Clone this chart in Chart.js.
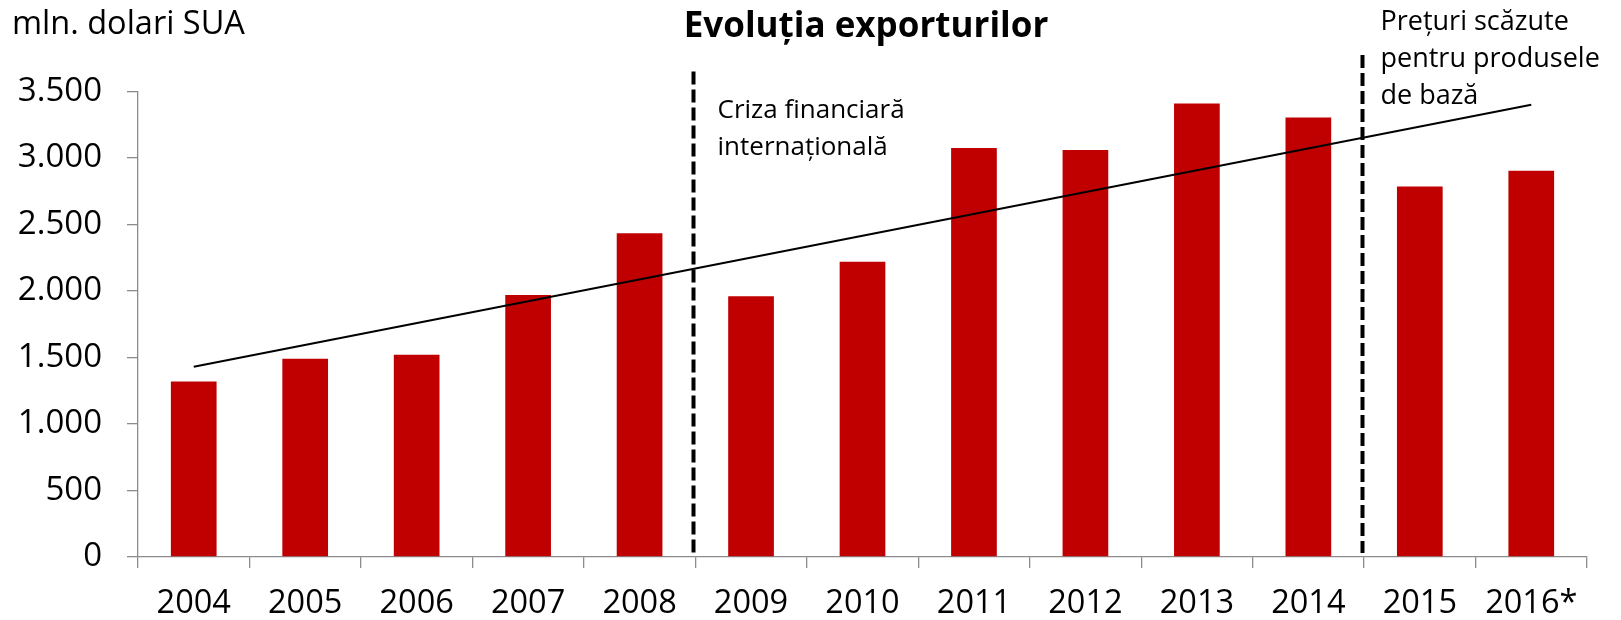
<!DOCTYPE html>
<html>
<head>
<meta charset="utf-8">
<script src="https://cdn.jsdelivr.net/npm/chart.js@4.4.0/dist/chart.umd.min.js"></script>
<style>
html, body { margin: 0; padding: 0; background: #ffffff; }
#wrap { width: 1621px; height: 620px; position: relative; }
</style>
</head>
<body>
<div id="wrap"><canvas id="c" width="1621" height="620"></canvas></div>
<script>
// ---- data ----
const years = ['2004', '2005', '2006', '2007', '2008', '2009', '2010', '2011', '2012', '2013', '2014', '2015', '2016*'];
const exportValues = [1320, 1490, 1520, 1970, 2435, 1960, 2220, 3075, 3060, 3410, 3305, 2785, 2905];
const trendValues = [1430, null, null, null, null, null, null, null, null, null, null, null, 3400];
const yMin = 0;
const yMax = 3500;
const yStep = 500;
const dividerPositions = [4.5, 10.5];      // between 2008/2009 and 2014/2015
const dividerTops = [3650, 3775];          // value where dashed lines start
const annotationLines = [
  ['Criza financiară', 'internațională'],
  ['Prețuri scăzute', 'pentru produsele', 'de bază']
];
const titleText = 'Evoluția exporturilor';
const unitText = 'mln. dolari SUA';

// ---- styles ----
const FONT = '"Open Sans", "Liberation Sans", sans-serif';
const AXIS_GRAY = '#8c8c8c';
const BAR_RED = '#C00000';

function fmt(v) {
  return String(v).replace(/\B(?=(\d{3})+(?!\d))/g, '.');
}

const overlayPlugin = {
  id: 'overlay',
  afterDraw(chart) {
    const ctx = chart.ctx;
    const xs = chart.scales.x;
    const ys = chart.scales.y;
    ctx.save();
    // unit label
    ctx.fillStyle = '#000';
    ctx.textBaseline = 'alphabetic';
    ctx.textAlign = 'left';
    ctx.font = '32.5px ' + FONT;
    ctx.fillText(unitText, 12, 34);
    // title
    ctx.font = 'bold 35px ' + FONT;
    ctx.textAlign = 'center';
    ctx.fillText(titleText, 866, 37);
    // dashed dividers
    ctx.strokeStyle = '#000';
    ctx.lineWidth = 4;
    ctx.setLineDash([13, 5]);
    const textOffsets = [24, 18];
    const textBaselines = [118, 30];
    const textSizes = [26, 27];
    dividerPositions.forEach((pos, i) => {
      const x = Math.round(xs.getPixelForValue(pos)) - 1.5;
      const yTop = ys.getPixelForValue(dividerTops[i]);
      const yBot = ys.getPixelForValue(yMin) - 4;
      ctx.beginPath();
      ctx.moveTo(x, yTop);
      ctx.lineTo(x, yBot);
      ctx.stroke();
      // annotation text
      ctx.font = textSizes[i] + 'px ' + FONT;
      ctx.textAlign = 'left';
      annotationLines[i].forEach((line, j) => {
        ctx.fillText(line, x + textOffsets[i], textBaselines[i] + j * 37);
      });
    });
    ctx.restore();
  }
};

new Chart(document.getElementById('c'), {
  type: 'bar',
  data: {
    labels: years,
    datasets: [
      {
        type: 'line',
        data: trendValues,
        spanGaps: true,
        borderColor: '#000',
        borderWidth: 2,
        pointRadius: 0,
        fill: false,
        order: 0
      },
      {
        type: 'bar',
        data: exportValues,
        backgroundColor: BAR_RED,
        borderWidth: 0,
        barPercentage: 0.41,
        categoryPercentage: 1.0,
        order: 1
      }
    ]
  },
  options: {
    responsive: false,
    devicePixelRatio: 1,
    animation: false,
    layout: { padding: { top: 91.5, right: 34, left: 0, bottom: 0 } },
    plugins: {
      legend: { display: false },
      tooltip: { enabled: false },
      title: { display: false }
    },
    scales: {
      x: {
        offset: true,
        grid: {
          offset: true,
          drawOnChartArea: false,
          drawTicks: true,
          tickLength: 11,
          color: AXIS_GRAY,
          lineWidth: 1.3
        },
        border: { display: true, color: AXIS_GRAY, width: 1.3 },
        ticks: {
          color: '#000',
          font: { family: FONT, size: 32.5 },
          padding: 16,
          maxRotation: 0,
          autoSkip: false
        },
        afterFit(scale) { scale.height = 63; }
      },
      y: {
        min: yMin,
        max: yMax,
        grid: {
          drawOnChartArea: false,
          drawTicks: true,
          tickLength: 11,
          color: AXIS_GRAY,
          lineWidth: 1.3
        },
        border: { display: true, color: AXIS_GRAY, width: 1.3 },
        ticks: {
          stepSize: yStep,
          color: '#000',
          font: { family: FONT, size: 33 },
          padding: 25,
          callback: (v) => fmt(v)
        },
        afterFit(scale) { scale.width = 138; }
      }
    }
  },
  plugins: [overlayPlugin]
});
</script>
</body>
</html>
